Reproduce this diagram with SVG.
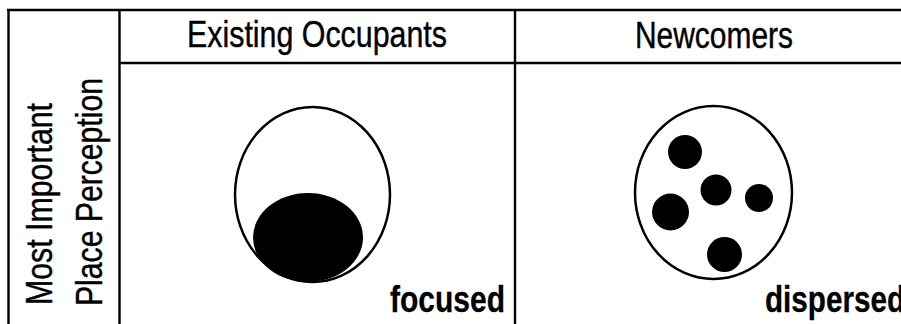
<svg xmlns="http://www.w3.org/2000/svg" width="901" height="324" viewBox="0 0 901 324">
<style>
.ln{stroke:#000;stroke-width:2.4;fill:none}
.hd{font-family:"Liberation Sans",Arial,sans-serif;font-size:36px;fill:#000;stroke:#000;stroke-width:0.4}
.lb{font-family:"Liberation Sans",Arial,sans-serif;font-size:37px;font-weight:bold;fill:#000;stroke:#000;stroke-width:0.3}
.ring{fill:#fff;stroke:#000;stroke-width:2.5}
.dot{fill:#000}
</style>
<rect width="901" height="324" fill="#fff"/>
<g id="grid">
<line class="ln" x1="7" y1="10" x2="901" y2="10" stroke-width="3"/>
<line class="ln" x1="8.5" y1="10" x2="8.5" y2="324"/>
<line class="ln" x1="119.5" y1="10" x2="119.5" y2="324"/>
<line class="ln" x1="515" y1="10" x2="515" y2="324"/>
<line class="ln" x1="119.5" y1="63" x2="901" y2="63" stroke-width="3"/>
</g>
<g id="header-existing"><text class="hd" x="187" y="47" textLength="260" lengthAdjust="spacingAndGlyphs">Existing Occupants</text></g>
<g id="header-newcomers"><text class="hd" x="635" y="48" textLength="158" lengthAdjust="spacingAndGlyphs">Newcomers</text></g>
<g id="row-label">
<text class="hd" transform="translate(52,305) rotate(-90)" textLength="202" lengthAdjust="spacingAndGlyphs">Most Important</text>
<text class="hd" transform="translate(102,306) rotate(-90)" textLength="228" lengthAdjust="spacingAndGlyphs">Place Perception</text>
</g>
<g id="focused-node">
<ellipse class="ring" cx="312.5" cy="194.5" rx="77.5" ry="87.5"/>
<ellipse class="dot" cx="308" cy="237.5" rx="55" ry="44.5"/>
<text class="lb" x="390" y="312" textLength="115" lengthAdjust="spacingAndGlyphs">focused</text>
</g>
<g id="dispersed-node">
<ellipse class="ring" cx="713.5" cy="192.5" rx="78.5" ry="86.5"/>
<circle class="dot" cx="685" cy="152" r="17"/>
<circle class="dot" cx="716" cy="190" r="15.5"/>
<circle class="dot" cx="759" cy="198" r="14"/>
<circle class="dot" cx="670.5" cy="212" r="18.5"/>
<circle class="dot" cx="724.5" cy="254.5" r="17.5"/>
<text class="lb" x="765" y="312" textLength="140" lengthAdjust="spacingAndGlyphs">dispersed</text>
</g>
</svg>
